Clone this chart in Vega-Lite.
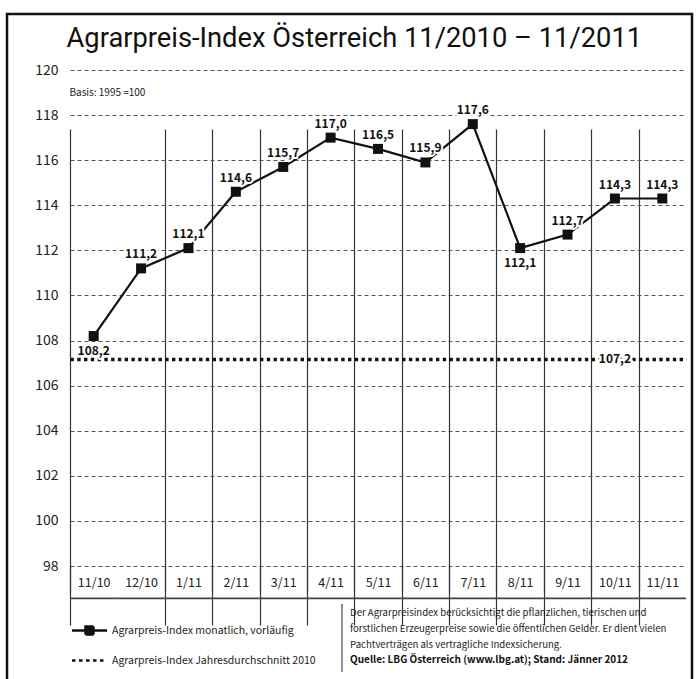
{
  "$schema": "https://vega.github.io/schema/vega-lite/v6.json",
  "width": 685,
  "height": 667,
  "autosize": {"type": "none"},
  "padding": {"left": 7, "top": 14, "right": 5, "bottom": 0},
  "background": "white",
  "config": {
    "view": {"stroke": "#111", "strokeWidth": 2.5},
    "font": "Noto Sans CJK JP",
    "locale": {"number": {"decimal": ",", "thousands": ".", "grouping": [3], "currency": ["", " €"]}}
  },
  "datasets": {
    "monthly": [
      {"month": "11/10", "index": 108.2},
      {"month": "12/10", "index": 111.2},
      {"month": "1/11", "index": 112.1},
      {"month": "2/11", "index": 114.6},
      {"month": "3/11", "index": 115.7},
      {"month": "4/11", "index": 117.0},
      {"month": "5/11", "index": 116.5},
      {"month": "6/11", "index": 115.9},
      {"month": "7/11", "index": 117.6},
      {"month": "8/11", "index": 112.1},
      {"month": "9/11", "index": 112.7},
      {"month": "10/11", "index": 114.3},
      {"month": "11/11", "index": 114.3}
    ],
    "series": [
      {"series": "Agrarpreis-Index monatlich, vorläufig"},
      {"series": "Agrarpreis-Index Jahresdurchschnitt 2010"}
    ]
  },
  "data": {"name": "monthly"},
  "encoding": {
    "x": {
      "field": "month", "type": "ordinal", "sort": null,
      "scale": {
        "domain": ["11/10", "12/10", "1/11", "2/11", "3/11", "4/11", "5/11", "6/11", "7/11", "8/11", "9/11", "10/11", "11/11"],
        "range": [63, 679], "paddingInner": 0, "paddingOuter": 0
      },
      "axis": {
        "title": null, "orient": "bottom", "offset": -115,
        "domain": false, "tickBand": "extent",
        "grid": true, "gridColor": "#333", "gridWidth": 1.2, "gridDash": [],
        "gridOpacity": {"condition": {"test": "datum.index === 0 || datum.index === 1", "value": 0}, "value": 1},
        "ticks": true, "tickSize": 25, "tickColor": "#333", "tickWidth": 1.2,
        "tickOpacity": {"condition": {"test": "datum.index === 0 || datum.index === 1", "value": 0}, "value": 1},
        "labelFont": "Noto Sans CJK JP", "labelFontSize": 12.5, "labelColor": "#222",
        "labelAngle": 0, "labelBaseline": "middle", "labelPadding": -9
      }
    },
    "y": {
      "field": "index", "type": "quantitative",
      "scale": {"domain": [98, 120], "range": [552, 56], "zero": false, "nice": false},
      "axis": {
        "title": null, "orient": "left", "offset": -63,
        "values": [98, 100, 102, 104, 106, 107.2, 108, 110, 112, 114, 116, 118, 120],
        "labelExpr": "datum.value === 107.2 ? '' : datum.label",
        "domain": false, "ticks": false, "labelPadding": 12,
        "labelFont": "Noto Sans CJK JP", "labelFontSize": 14, "labelColor": "#222",
        "grid": true,
        "gridDash": {"condition": {"test": "datum.value === 107.2", "value": [3.384, 3.384]}, "value": [4, 3]},
        "gridWidth": {"condition": {"test": "datum.value === 107.2", "value": 3.5}, "value": 1},
        "gridColor": {"condition": {"test": "datum.value === 107.2", "value": "#111"}, "value": "#555"}
      }
    }
  },
  "layer": [
    {
      "mark": {"type": "bar", "color": "#444"},
      "encoding": {"y": {"datum": 96.6}, "y2": {"datum": 96.53}}
    },
    {
      "transform": [{"filter": "datum.month === '11/10'"}],
      "mark": {"type": "text", "fontSize": 12, "fontWeight": "bold", "stroke": "white", "strokeWidth": 5, "strokeJoin": "round", "fill": "white", "baseline": "middle", "text": "107,2"},
      "encoding": {"x": {"datum": "10/11"}, "y": {"datum": 107.2}}
    },
    {
      "transform": [{"filter": "datum.month === '11/10'"}],
      "mark": {"type": "text", "fontSize": 12, "fontWeight": "bold", "color": "#111", "baseline": "middle", "text": "107,2"},
      "encoding": {"x": {"datum": "10/11"}, "y": {"datum": 107.2}}
    },
    {
      "transform": [{"filter": "datum.month === '11/10'"}],
      "mark": {"type": "text", "fontSize": 10, "stroke": "white", "strokeWidth": 8, "strokeJoin": "round", "fill": "white", "baseline": "middle", "text": "Basis: 1995 =100"},
      "encoding": {"x": {"datum": "11/10", "bandPosition": 0.79}, "y": {"datum": 119.0}}
    },
    {
      "transform": [{"filter": "datum.month === '11/10'"}],
      "mark": {"type": "text", "fontSize": 10, "color": "#222", "baseline": "middle", "text": "Basis: 1995 =100"},
      "encoding": {"x": {"datum": "11/10", "bandPosition": 0.79}, "y": {"datum": 119.0}}
    },
    {
      "mark": {"type": "line", "color": "#111", "strokeWidth": 2.2}
    },
    {
      "mark": {"type": "point", "shape": "square", "filled": true, "color": "#111", "size": 100, "opacity": 1}
    },
    {
      "transform": [{"filter": "datum.month !== '11/10' && datum.month !== '8/11'"}],
      "mark": {"type": "text", "fontSize": 12, "fontWeight": "bold", "stroke": "white", "strokeWidth": 4, "strokeJoin": "round", "fill": "white", "baseline": "middle", "dy": -14},
      "encoding": {"text": {"field": "index", "type": "quantitative", "format": ".1f"}}
    },
    {
      "transform": [{"filter": "datum.month !== '11/10' && datum.month !== '8/11'"}],
      "mark": {"type": "text", "fontSize": 12, "fontWeight": "bold", "color": "#111", "baseline": "middle", "dy": -14},
      "encoding": {"text": {"field": "index", "type": "quantitative", "format": ".1f"}}
    },
    {
      "transform": [{"filter": "datum.month === '11/10' || datum.month === '8/11'"}],
      "mark": {"type": "text", "fontSize": 12, "fontWeight": "bold", "stroke": "white", "strokeWidth": 4, "strokeJoin": "round", "fill": "white", "baseline": "middle", "dy": 15},
      "encoding": {"text": {"field": "index", "type": "quantitative", "format": ".1f"}}
    },
    {
      "transform": [{"filter": "datum.month === '11/10' || datum.month === '8/11'"}],
      "mark": {"type": "text", "fontSize": 12, "fontWeight": "bold", "color": "#111", "baseline": "middle", "dy": 15},
      "encoding": {"text": {"field": "index", "type": "quantitative", "format": ".1f"}}
    },
    {
      "transform": [{"filter": "datum.month === '11/10'"}],
      "mark": {"type": "text", "font": "Roboto", "fontSize": 27.3, "color": "#111", "align": "center", "baseline": "alphabetic", "text": "Agrarpreis-Index Österreich 11/2010 – 11/2011"},
      "encoding": {"x": {"datum": "5/11", "bandPosition": 0}, "y": {"datum": 121.0}}
    },
    {
      "transform": [{"filter": "datum.month === '11/10'"}],
      "mark": {"type": "rule", "color": "#555", "strokeWidth": 1.3},
      "encoding": {"x": {"datum": "4/11", "bandPosition": 0.74}, "y": {"datum": 96.31}, "y2": {"datum": 93.3}}
    },
    {
      "transform": [{"filter": "datum.month === '11/10'"}],
      "mark": {"type": "text", "fontSize": 9.6, "color": "#222", "align": "left", "baseline": "top", "lineHeight": 16,
        "text": ["Der Agrarpreisindex berücksichtigt die pflanzlichen, tierischen und", "forstlichen Erzeugerpreise sowie die öffentlichen Gelder. Er dient vielen", "Pachtverträgen als vertragliche Indexsicherung."]},
      "encoding": {"x": {"datum": "4/11", "bandPosition": 0.91}, "y": {"datum": 96.13}}
    },
    {
      "transform": [{"filter": "datum.month === '11/10'"}],
      "mark": {"type": "text", "fontSize": 10, "fontWeight": "bold", "color": "#111", "align": "left", "baseline": "middle", "text": "Quelle: LBG Österreich (www.lbg.at); Stand: Jänner 2012"},
      "encoding": {"x": {"datum": "4/11", "bandPosition": 0.91}, "y": {"datum": 93.84}}
    },
    {
      "data": {"name": "series"},
      "mark": {"type": "point", "filled": true, "fill": "#111", "stroke": "#111", "strokeWidth": 2.5, "opacity": 0},
      "encoding": {
        "x": {"datum": "11/10"},
        "y": {"datum": 110},
        "shape": {
          "field": "series", "type": "nominal",
          "scale": {"domain": ["Agrarpreis-Index monatlich, vorläufig", "Agrarpreis-Index Jahresdurchschnitt 2010"],
                    "range": ["M-1.75,0H-0.45M0.45,0H1.75M-0.4,-0.4H0.4V0.4H-0.4Z", "M-1.75,0H1.4"]},
          "legend": {"title": null, "orient": "none", "legendX": 71, "legendY": 605, "padding": 0,
                     "symbolSize": 400, "symbolStrokeWidth": 2.5, "symbolFillColor": "#111", "symbolStrokeColor": "#111", "symbolOpacity": 1,
                     "labelFont": "Noto Sans CJK JP", "labelFontSize": 10.5, "labelColor": "#222", "labelOffset": 11, "labelLimit": 0, "rowPadding": 9,
                     "encoding": {"symbols": {"stroke": {"value": "#111"}, "strokeWidth": {"value": 2.5}, "fill": {"value": "#111"}, "opacity": {"value": 1}, "strokeOpacity": {"value": 1}}}}
        },
        "strokeDash": {
          "field": "series", "type": "nominal",
          "scale": {"domain": ["Agrarpreis-Index monatlich, vorläufig", "Agrarpreis-Index Jahresdurchschnitt 2010"],
                    "range": [[1, 0], [3.5, 3.5]]},
          "legend": {"title": null, "orient": "none", "legendX": 71, "legendY": 605, "padding": 0,
                     "symbolSize": 400, "symbolStrokeWidth": 2.5, "symbolFillColor": "#111", "symbolStrokeColor": "#111", "symbolOpacity": 1,
                     "labelFont": "Noto Sans CJK JP", "labelFontSize": 10.5, "labelColor": "#222", "labelOffset": 11, "labelLimit": 0, "rowPadding": 9,
                     "encoding": {"symbols": {"stroke": {"value": "#111"}, "strokeWidth": {"value": 2.5}, "fill": {"value": "#111"}, "opacity": {"value": 1}, "strokeOpacity": {"value": 1}}}}
        }
      }
    }
  ]
}
